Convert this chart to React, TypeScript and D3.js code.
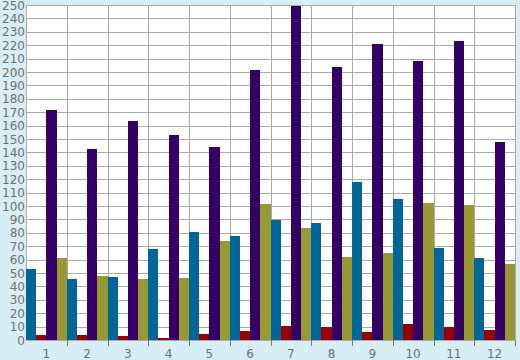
import React from 'react'
import * as d3 from 'd3'

const width = 520
const height = 360
const margin = { top: 5, right: 5, bottom: 20, left: 26 }

const categories = ['1', '2', '3', '4', '5', '6', '7', '8', '9', '10', '11', '12']
const seriesNames = ['blue', 'red', 'purple', 'olive']
const seriesColors = ['#006699', '#990000', '#330066', '#999933']

const blueValues = [53, 45.5, 47, 68, 80.5, 77.5, 89.5, 87.5, 118, 105, 68.5, 61]
const redValues = [3.7, 3.7, 3, 1.5, 4.5, 6.7, 10.4, 9.7, 6, 12, 9.7, 7.5]
const purpleValues = [172, 142.5, 163.5, 153, 144, 201.5, 249.5, 203.5, 221, 208, 223, 148]
const oliveValues = [61, 48, 45.5, 46.5, 74, 101.5, 83.5, 62, 65, 102, 101, 56.7]

const yTicks = d3.range(0, 251, 10)

const table = categories.map((c, i) => ({
  category: c,
  values: [blueValues[i], redValues[i], purpleValues[i], oliveValues[i]]
}))

const x = d3.scaleBand()
  .domain(categories)
  .range([margin.left, width - margin.right])

const xInner = d3.scaleBand()
  .domain(seriesNames)
  .range([0, x.bandwidth()])

const y = d3.scaleLinear()
  .domain([0, 250])
  .range([height - margin.bottom, margin.top])

const crisp = (v: number) => Math.round(v) + 0.5

export default function App() {
  const x0 = margin.left
  const x1 = width - margin.right
  const yBottom = height - margin.bottom
  return (
    <svg width={width} height={height}
      style={{ position: 'absolute', left: 0, top: 0, display: 'block' }}
      fontFamily="'DejaVu Sans', Verdana, sans-serif" fontSize={12}>
      <rect x={0} y={0} width={width} height={height} fill="#d8eef6" />
      <rect x={x0} y={margin.top} width={x1 - x0} height={yBottom - margin.top} fill="#ffffff" />
      {/* horizontal grid */}
      {yTicks.map(t => (
        <line key={'h' + t} x1={x0} x2={x1} y1={crisp(y(t))} y2={crisp(y(t))}
          stroke="#aaaaaa" strokeWidth={1} />
      ))}
      {/* vertical grid + ticks */}
      {categories.map((c, i) => {
        const gx = crisp(x(c) as number)
        return (
          <g key={'v' + c}>
            <line x1={gx} x2={gx} y1={margin.top} y2={yBottom} stroke="#aaaaaa" />
            {i > 0 && <line x1={gx} x2={gx} y1={yBottom} y2={yBottom + 6} stroke="#777777" />}
          </g>
        )
      })}
      <line x1={crisp(x1)} x2={crisp(x1)} y1={margin.top} y2={yBottom} stroke="#aaaaaa" />
      <line x1={crisp(x1)} x2={crisp(x1)} y1={yBottom} y2={yBottom + 6} stroke="#777777" />
      {/* bars */}
      {table.map(d => (
        <g key={d.category} transform={`translate(${x(d.category)},0)`}>
          {d.values.map((v, j) => (
            <rect key={j}
              x={xInner(seriesNames[j])}
              y={y(v)}
              width={xInner.bandwidth()}
              height={y(0) - y(v)}
              fill={seriesColors[j]}
              shapeRendering="crispEdges" />
          ))}
        </g>
      ))}
      {/* y labels */}
      {yTicks.map(t => (
        <text key={'yl' + t} x={x0 - 1} y={y(t) + 4.5} textAnchor="end" fill="#707070">{t}</text>
      ))}
      {/* x labels */}
      {categories.map(c => (
        <text key={'xl' + c} x={(x(c) as number) + x.bandwidth() / 2} y={height - 2}
          textAnchor="middle" fill="#707070">{c}</text>
      ))}
    </svg>
  )
}
